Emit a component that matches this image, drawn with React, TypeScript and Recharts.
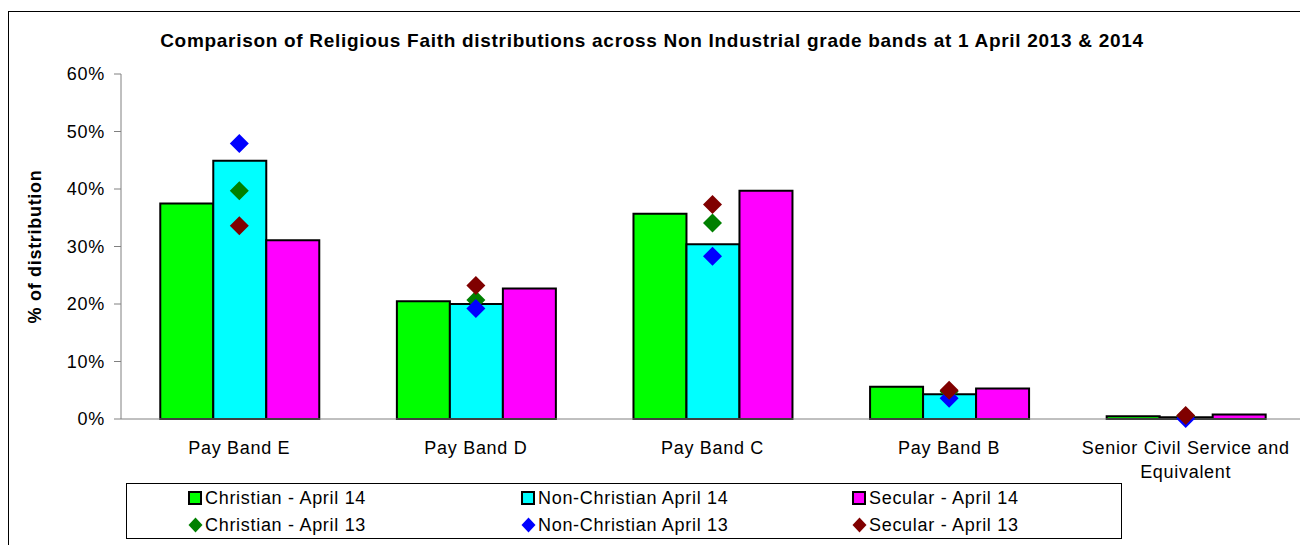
import { ComposedChart, Bar, Line, XAxis, YAxis } from 'recharts';

const categories = ['Pay Band E', 'Pay Band D', 'Pay Band C', 'Pay Band B', 'Senior Civil Service and Equivalent'];
const christian14 = [37.5, 20.5, 35.7, 5.6, 0.5];
const nonChristian14 = [44.9, 20.0, 30.4, 4.3, 0.3];
const secular14 = [31.1, 22.7, 39.7, 5.3, 0.8];
const christian13 = [39.7, 20.7, 34.1, 4.8, 0.5];
const nonChristian13 = [47.9, 19.2, 28.3, 3.6, 0.1];
const secular13 = [33.6, 23.2, 37.3, 5.0, 0.6];
const yTicks = [0, 10, 20, 30, 40, 50, 60];

const data = categories.map((name, i) => ({
  name,
  c14: christian14[i],
  n14: nonChristian14[i],
  s14: secular14[i],
  c13: christian13[i],
  n13: nonChristian13[i],
  s13: secular13[i],
}));

const FONT = '"Liberation Sans", Arial, sans-serif';
const SPACING = '0.7px';

const legendItems = [
  { label: 'Christian - April 14', color: '#00FF00', kind: 'bar' },
  { label: 'Non-Christian April 14', color: '#00FFFF', kind: 'bar' },
  { label: 'Secular - April 14', color: '#FF00FF', kind: 'bar' },
  { label: 'Christian - April 13', color: '#008000', kind: 'diamond' },
  { label: 'Non-Christian April 13', color: '#0000FF', kind: 'diamond' },
  { label: 'Secular - April 13', color: '#800000', kind: 'diamond' },
];

function diamond(color: string) {
  return (props: any) => {
    const { cx, cy, index } = props;
    if (cx == null || cy == null) return <g key={index} />;
    const r = 9.5;
    return (
      <path
        key={index}
        d={`M${cx},${cy - r}L${cx + r},${cy}L${cx},${cy + r}L${cx - r},${cy}Z`}
        fill={color}
      />
    );
  };
}

function wrapLabel(text: string, max: number) {
  const words = text.split(' ');
  const lines: string[] = [];
  let cur = '';
  words.forEach(w => {
    const next = cur ? cur + ' ' + w : w;
    if (next.length > max && cur) {
      lines.push(cur);
      cur = w;
    } else cur = next;
  });
  if (cur) lines.push(cur);
  return lines;
}

function CategoryTick(props: any) {
  const { x, y, payload } = props;
  const lines = wrapLabel(payload.value, 26);
  return (
    <text x={x} y={y} textAnchor="middle" fontFamily={FONT} fontSize={18} letterSpacing={SPACING} fill="#000">
      {lines.map((l, i) => (
        <tspan key={i} x={x} dy={i === 0 ? 27 : 24}>{l}</tspan>
      ))}
    </text>
  );
}

export default function App() {
  return (
    <div style={{ position: 'absolute', left: 0, top: 0, width: 1300, height: 545, overflow: 'hidden', background: '#fff', fontFamily: FONT }}>
      {/* chart frame */}
      <div style={{ position: 'absolute', left: 8, top: 11, width: 1400, height: 600, borderTop: '1px solid #000', borderLeft: '1px solid #000' }} />
      <div style={{ position: 'absolute', left: 0, width: 1304, top: 30, textAlign: 'center', fontSize: 19, fontWeight: 'bold', letterSpacing: SPACING }}>
        Comparison of Religious Faith distributions across Non Industrial grade bands at 1 April 2013 &amp; 2014
      </div>
      <div style={{ position: 'absolute', left: 0, top: 0 }}>
        <ComposedChart
          width={1304}
          height={545}
          data={data}
          margin={{ top: 74, right: 0, bottom: 66, left: 0 }}
          barCategoryGap="16.6%"
          barGap={0}
        >
          <XAxis
            dataKey="name"
            height={60}
            tick={<CategoryTick />}
            interval={0}
            axisLine={{ stroke: '#808080' }}
            tickLine={false}
          />
          <YAxis
            width={121}
            domain={[0, 60]}
            ticks={yTicks}
            tickFormatter={(v: number) => `${v}%`}
            tick={{ fontSize: 18, fill: '#000', fontFamily: FONT, letterSpacing: SPACING }}
            tickSize={7}
            tickMargin={9}
            axisLine={{ stroke: '#808080' }}
            tickLine={{ stroke: '#808080' }}
            label={({ viewBox }: any) => (
              <text
                x={35}
                y={viewBox.y + viewBox.height / 2}
                transform={`rotate(-90, 35, ${viewBox.y + viewBox.height / 2})`}
                textAnchor="middle"
                dominantBaseline="central"
                fontFamily={FONT}
                fontSize={18}
                fontWeight="bold"
                letterSpacing={SPACING}
                fill="#000"
              >
                % of distribution
              </text>
            )}
          />
          <Bar dataKey="c14" fill="#00FF00" stroke="#000" strokeWidth={2} isAnimationActive={false} />
          <Bar dataKey="n14" fill="#00FFFF" stroke="#000" strokeWidth={2} isAnimationActive={false} />
          <Bar dataKey="s14" fill="#FF00FF" stroke="#000" strokeWidth={2} isAnimationActive={false} />
          <Line dataKey="c13" stroke="none" dot={diamond('#008000')} activeDot={false} isAnimationActive={false} />
          <Line dataKey="n13" stroke="none" dot={diamond('#0000FF')} activeDot={false} isAnimationActive={false} />
          <Line dataKey="s13" stroke="none" dot={diamond('#800000')} activeDot={false} isAnimationActive={false} />
        </ComposedChart>
      </div>
      {/* legend */}
      <div style={{ position: 'absolute', left: 126, top: 483, width: 996, height: 56, border: '1px solid #000', boxSizing: 'border-box', letterSpacing: SPACING }}>
        {legendItems.map((item, i) => {
          const col = i % 3;
          const row = Math.floor(i / 3);
          const left = [61, 394, 725][col];
          return (
            <div key={i} style={{ position: 'absolute', left, top: row === 0 ? 3 : 30, height: 22, display: 'flex', alignItems: 'center', fontSize: 18 }}>
              {item.kind === 'bar' ? (
                <span style={{ display: 'inline-block', width: 10, height: 10, background: item.color, border: '2px solid #000', marginRight: 3 }} />
              ) : (
                <svg width={15} height={16} style={{ marginRight: 2 }}>
                  <path d="M7.5,0.5L14.5,8L7.5,15.5L0.5,8Z" fill={item.color} />
                </svg>
              )}
              <span>{item.label}</span>
            </div>
          );
        })}
      </div>
    </div>
  );
}
